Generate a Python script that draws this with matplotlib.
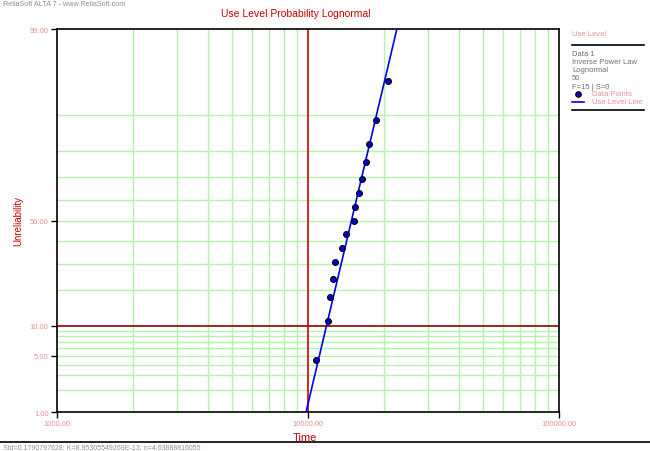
import numpy as np
import matplotlib
matplotlib.use("Agg")
import matplotlib.pyplot as plt
from statistics import NormalDist

plt.rcParams["font.family"] = ["Liberation Sans", "DejaVu Sans"]

# ---- data ----
times = [10780, 12040, 12190, 12560, 12790, 13640, 14150, 15200, 15430,
         15950, 16400, 17080, 17560, 18720, 20820]
n_fail = 15
sigma = 0.1790797628
median_t = 14900.0
y_ticks = [1, 5, 10, 50, 99]
y_grid = [2, 3, 4, 5, 6, 7, 8, 9, 20, 30, 40, 50, 60, 70, 80, 90]
x_grid = [2000, 3000, 4000, 5000, 6000, 7000, 8000, 9000,
          20000, 30000, 40000, 50000, 60000, 70000, 80000, 90000]
x_ticks = [1000, 10000, 100000]
legend_lines = ["Data 1", "Inverse Power Law", "Lognormal", "50", "F=15 | S=0"]
status = "Std=0.1790797628; K=8.95305549269E-13; n=4.63888816055"

nd = NormalDist()
def ppf(p):
    return nd.inv_cdf(p / 100.0)

ranks = [(i - 0.3) / (n_fail + 0.4) * 100 for i in range(1, n_fail + 1)]

W, H = 650, 452
fig = plt.figure(figsize=(W / 100, H / 100), dpi=100)
L, R, T, B = 57, 559, 30, 413
ax = fig.add_axes([L / W, 1 - B / H, (R - L) / W, (B - T) / H])
ax.set_xscale("log")
ax.set_xlim(1000, 100000)
ax.set_ylim(ppf(1), ppf(99))

grid_c = "#b0f5a8"
for g in x_grid:
    ax.axvline(g, color=grid_c, lw=1, zorder=1)
for g in y_grid:
    ax.axhline(ppf(g), color=grid_c, lw=1, zorder=1)
ax.axhline(ppf(10), color="#900000", lw=1.2, zorder=2)
ax.axvline(10000, color="#d00000", lw=1.2, zorder=2)

# fitted line
ps = np.linspace(0.5, 99.9, 300)
zs = np.array([ppf(p) for p in ps])
tl = median_t * np.exp(sigma * zs)
ax.plot(tl, zs, color="#0000ee", lw=1.2, zorder=3)

ax.plot(times, [ppf(r) for r in ranks], linestyle="none", marker="o",
        markersize=4.2, markerfacecolor="#0000dd", markeredgecolor="black",
        markeredgewidth=0.8, zorder=4)

tick_c = "#e89090"
ax.set_yticks([ppf(v) for v in y_ticks])
ax.set_yticklabels([f"{v:.2f}" for v in y_ticks], fontsize=5.5, color=tick_c)
ax.set_xticks(x_ticks)
ax.set_xticklabels([f"{v:.2f}" for v in x_ticks], fontsize=5.5, color=tick_c)
ax.minorticks_off()
ax.tick_params(axis="both", length=4, width=1, color="black", pad=2)
for s in ax.spines.values():
    s.set_color("black")
    s.set_linewidth(1.2)

ax.set_ylabel("Unreliability", color="#cc0000", fontsize=7)
ax.yaxis.set_label_coords(-34 / (R - L), 0.5)
ax.set_xlabel("Time", color="#cc0000", fontsize=8)
ax.xaxis.set_label_coords((305 - L) / (R - L), -(433 - B) / (B - T))

fig.text(296 / W, 1 - 14 / H, "Use Level Probability Lognormal",
         color="#cc0000", fontsize=7.5, ha="center", va="center")
fig.text(3 / W, 1 - 5 / H, "ReliaSoft ALTA 7 - www.ReliaSoft.com",
         color="#909090", fontsize=5.2, ha="left", va="center")

# legend panel
fig.text(572 / W, 1 - 34 / H, "Use Level", color=tick_c, fontsize=5.5, va="center")
fig.add_artist(plt.Line2D([572 / W, 644 / W], [1 - 46 / H] * 2, color="black", lw=1.2))
for i, t in enumerate(legend_lines):
    fig.text(572 / W, 1 - (54 + i * 8.3) / H, t, color="#707070", fontsize=5.5, va="center")
fig.add_artist(plt.Line2D([578 / W], [1 - 95 / H], marker="o", markersize=3.8,
                          markerfacecolor="#0000dd", markeredgecolor="black", lw=0))
fig.text(592 / W, 1 - 95 / H, "Data Points", color=tick_c, fontsize=5.5, va="center")
fig.add_artist(plt.Line2D([572 / W, 584 / W], [1 - 103 / H] * 2, color="#0000ee", lw=1.2))
fig.text(592 / W, 1 - 103 / H, "Use Level Line", color=tick_c, fontsize=5.5, va="center")
fig.add_artist(plt.Line2D([572 / W, 644 / W], [1 - 111 / H] * 2, color="black", lw=1.2))

# status bar
fig.add_artist(plt.Line2D([0, 1], [1 - 443 / H] * 2, color="black", lw=1.2))
fig.text(3 / W, 1 - 448 / H, status, color="#909090", fontsize=5, va="center")

fig.savefig("out.png", dpi=100)
